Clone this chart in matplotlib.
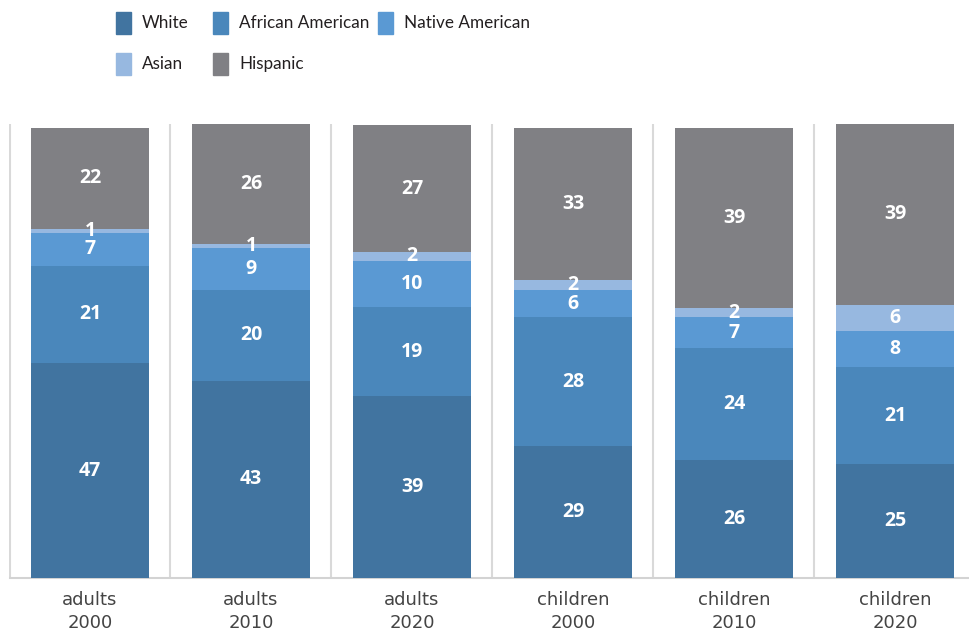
import numpy as np
import matplotlib.pyplot as plt
from matplotlib import font_manager
from matplotlib.patches import Rectangle

groups = ["adults\n2000", "adults\n2010", "adults\n2020",
          "children\n2000", "children\n2010", "children\n2020"]
races = ["White", "African American", "Native American", "Asian", "Hispanic"]
white = [46.6, 42.8, 39.4, 28.6, 25.6, 24.7]
african_american = [21.1, 19.6, 19.4, 28.0, 24.2, 21.1]
native_american = [7.1, 9.1, 10.0, 5.8, 6.8, 7.7]
asian = [0.9, 0.9, 1.9, 2.2, 1.9, 5.8]
hispanic = [21.9, 26.0, 27.4, 33.0, 39.0, 39.0]
colors = ["#4174a0", "#4a87bb", "#5a99d3", "#97b8e0", "#808084"]

series = [white, african_american, native_american, asian, hispanic]

# narrow font for the legend if there is one
try:
    font_manager.findfont("Liberation Sans Narrow", fallback_to_default=False)
    leg_font = dict(family="Liberation Sans Narrow", size=13.5)
except ValueError:
    leg_font = dict(family="Lato", size=12.3)

fig = plt.figure(figsize=(9.7, 6.33), dpi=100)
# axes runs a bit past the right edge, like the original
ax = fig.add_axes([9.5 / 970, (633 - 578.3) / 633, 966 / 970, (578.3 - 124) / 633])

x = np.arange(len(groups))
bottom = np.zeros(len(groups))
for vals, name, c in zip(series, races, colors):
    vals = np.array(vals)
    bars = ax.bar(x, vals, 0.727, bottom=bottom, color=c, label=name, zorder=3)
    lbls = ax.bar_label(bars, labels=[f"{v:.0f}" for v in vals], label_type="center",
                        color="white", fontsize=14, fontweight="bold", family="Open Sans")
    for t in lbls:
        t.set_zorder(10)
    bottom += vals

ax.set_xlim(-0.5, len(groups) - 0.5)
ax.set_ylim(0, bottom.max())
for s in ["left", "right", "top"]:
    ax.spines[s].set_visible(False)
ax.spines["bottom"].set_color("#d3d3d3")
ax.spines["bottom"].set_linewidth(1.5)
ax.set_yticks([])
ax.set_xticks(x, groups)
ax.set_xticks(np.append(x - 0.5, x[-1] + 0.5), minor=True)
ax.tick_params(axis="x", which="both", length=0, pad=9, labelsize=13,
               labelcolor="#444444")
for t in ax.get_xticklabels():
    t.set_linespacing(1.4)
ax.grid(axis="x", which="minor", color="#d9d9d9", linewidth=1.5, zorder=0)

# legend, laid out in rows like the original
leg_x = [116, 213, 378, 116, 213]
leg_y = [23, 23, 23, 64, 64]
for name, c, lx, ly in zip(races, colors, leg_x, leg_y):
    fig.add_artist(Rectangle((lx / 970, 1 - (ly + 11) / 633), 15 / 970, 22 / 633,
                             color=c, transform=fig.transFigure))
    fig.text((lx + 26) / 970, 1 - ly / 633, name, va="center", ha="left",
             color="#231f20", **leg_font)

fig.savefig("out.png", dpi=100)
